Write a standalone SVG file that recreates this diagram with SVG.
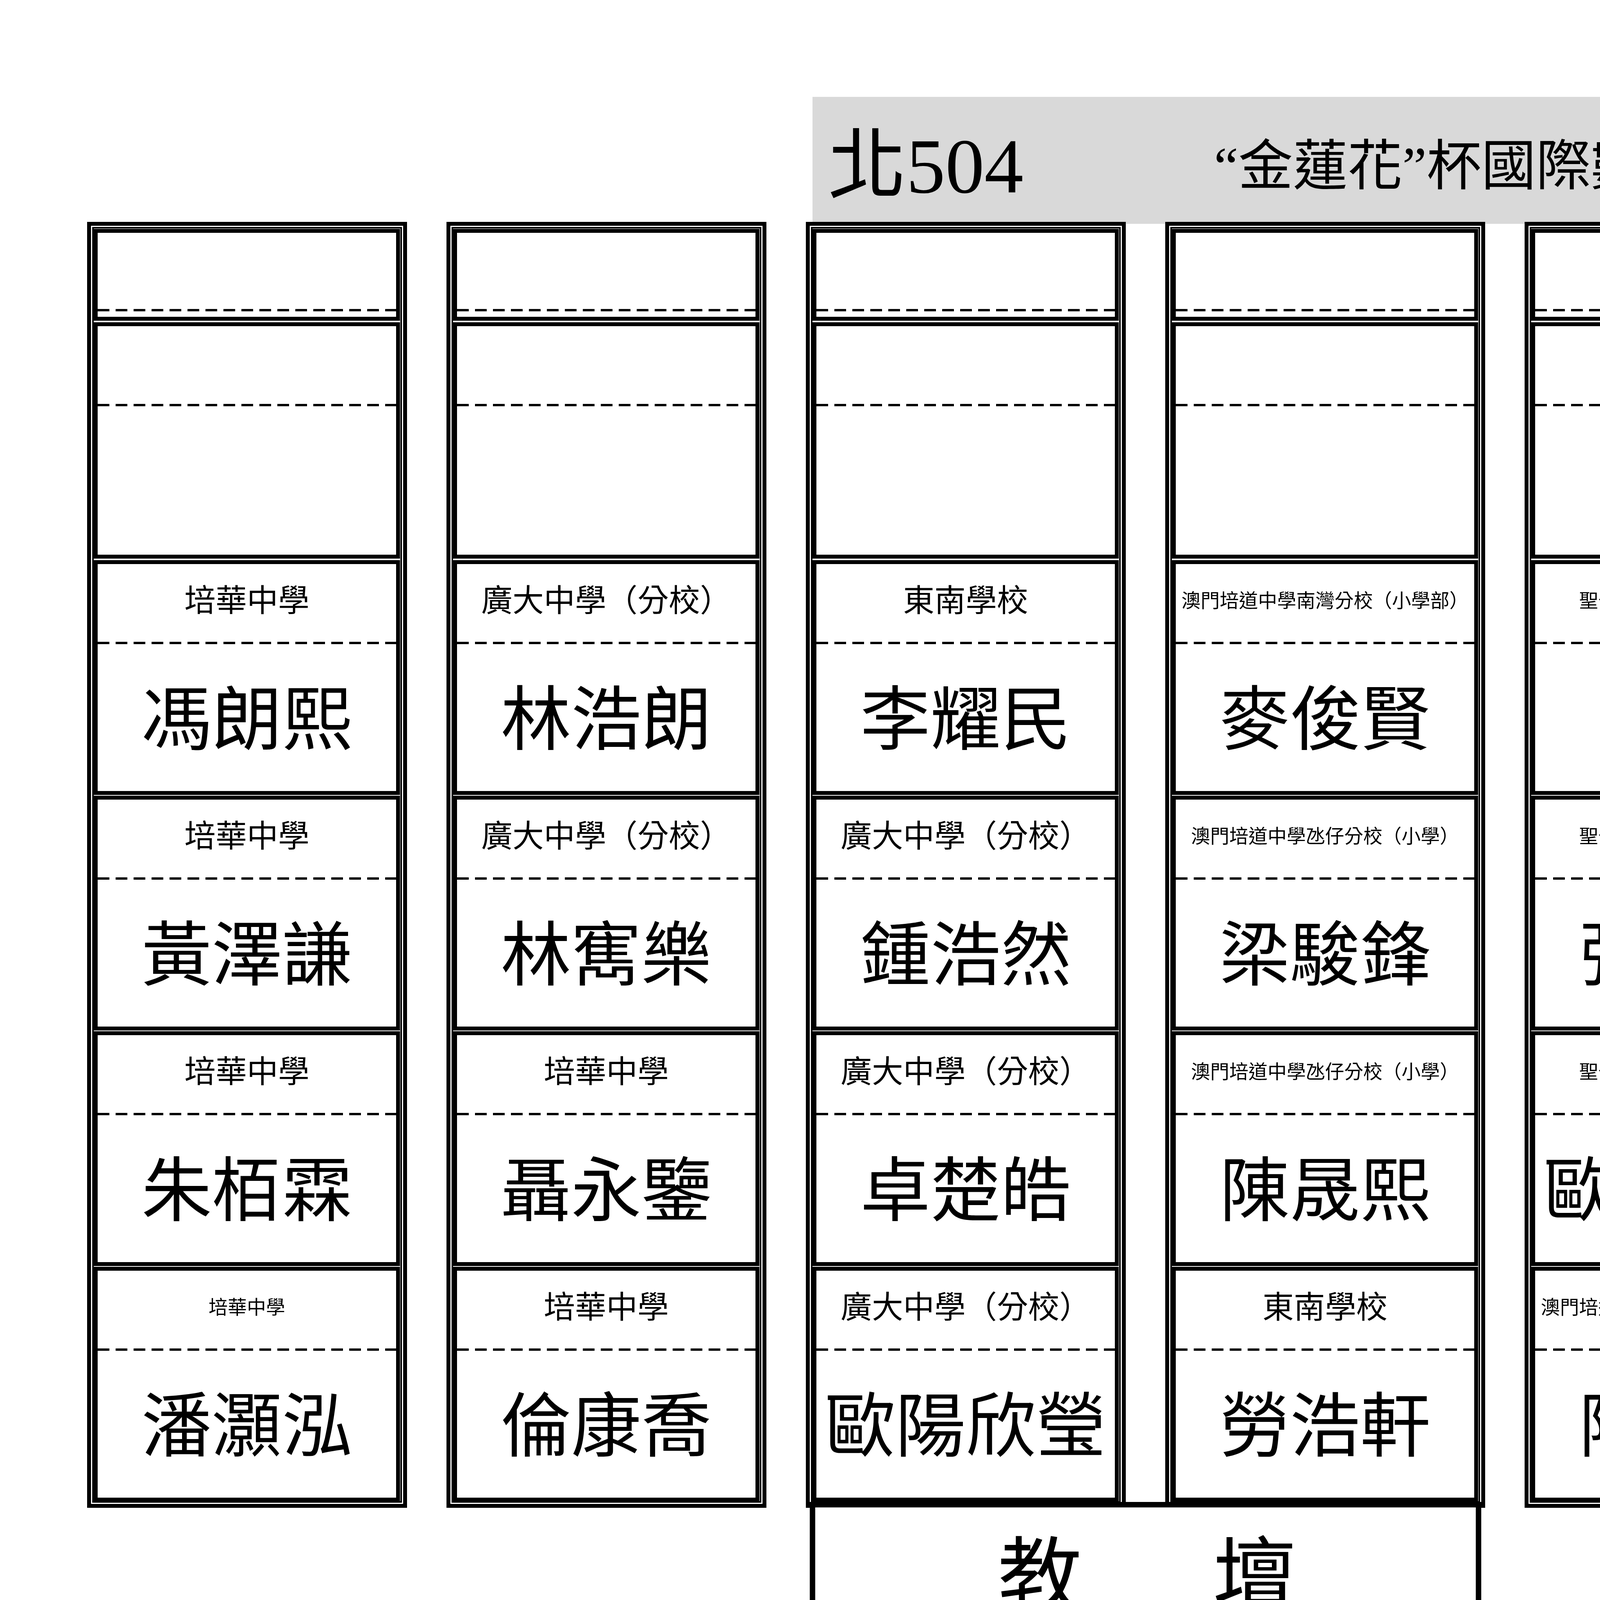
<svg xmlns="http://www.w3.org/2000/svg" width="7015" height="4960" viewBox="0 0 7015 4960">
<style>
.o{fill:none;stroke:#000;stroke-width:10}
.i{fill:none;stroke:#000;stroke-width:4}
.b{fill:#fff;stroke:#000;stroke-width:10}
.d{stroke:#000;stroke-width:6;stroke-dasharray:30 16}
text{font-family:"Liberation Serif","Noto Sans CJK TC",serif;fill:#000;text-anchor:middle;dominant-baseline:central}
.s{font-size:80px}.m{font-size:49px}.n{font-size:180px}
</style>
<defs>
<g id="col">
<rect class="o" x="0" y="573" width="809" height="3282"/>
<rect class="i" x="10" y="583" width="789" height="3262"/>
<rect class="b" x="17" y="591" width="774" height="225"/>
<line class="d" x1="22" y1="794" x2="786" y2="794"/>
<rect class="b" x="17" y="830" width="774" height="595"/>
<line class="d" x1="22" y1="1037" x2="786" y2="1037"/>
<rect class="b" x="17" y="1439" width="774" height="591"/>
<line class="d" x1="22" y1="1646" x2="786" y2="1646"/>
<rect class="b" x="17" y="2042" width="774" height="591"/>
<line class="d" x1="22" y1="2249" x2="786" y2="2249"/>
<rect class="b" x="17" y="2645" width="774" height="591"/>
<line class="d" x1="22" y1="2852" x2="786" y2="2852"/>
<rect class="b" x="17" y="3248" width="774" height="591"/>
<line class="d" x1="22" y1="3455" x2="786" y2="3455"/>
</g>
</defs>
<rect x="2080" y="248" width="3550" height="325" fill="#d9d9d9"/>
<g id="title">
<text x="2120" y="425" font-size="200" style="text-anchor:start">北504</text>
<text x="3870" y="425" font-size="140">“金蓮花”杯國際數學比賽</text>
<text x="5172" y="425" font-size="200">小四級</text>
</g>
<g id="c1" transform="translate(228,0)"><use href="#col"/>
<text class="s" x="404" y="1538">培華中學</text><text class="n" x="404" y="1844">馮朗熙</text>
<text class="s" x="404" y="2141">培華中學</text><text class="n" x="404" y="2447">黃澤謙</text>
<text class="s" x="404" y="2744">培華中學</text><text class="n" x="404" y="3050">朱栢霖</text>
<text class="m" x="404" y="3347" font-size="60">培華中學</text><text class="n" x="404" y="3653">潘灝泓</text>
</g>
<g id="c2" transform="translate(1148,0)"><use href="#col"/>
<text class="s" x="404" y="1538">廣大中學（分校）</text><text class="n" x="404" y="1844">林浩朗</text>
<text class="s" x="404" y="2141">廣大中學（分校）</text><text class="n" x="404" y="2447">林寯樂</text>
<text class="s" x="404" y="2744">培華中學</text><text class="n" x="404" y="3050">聶永鑒</text>
<text class="s" x="404" y="3347">培華中學</text><text class="n" x="404" y="3653">倫康喬</text>
</g>
<g id="c3" transform="translate(2068,0)"><use href="#col"/>
<text class="s" x="404" y="1538">東南學校</text><text class="n" x="404" y="1844">李耀民</text>
<text class="s" x="404" y="2141">廣大中學（分校）</text><text class="n" x="404" y="2447">鍾浩然</text>
<text class="s" x="404" y="2744">廣大中學（分校）</text><text class="n" x="404" y="3050">卓楚皓</text>
<text class="s" x="404" y="3347">廣大中學（分校）</text><text class="n" x="404" y="3653">歐陽欣瑩</text>
</g>
<g id="c4" transform="translate(2988,0)"><use href="#col"/>
<text class="m" x="404" y="1538">澳門培道中學南灣分校（小學部）</text><text class="n" x="404" y="1844">麥俊賢</text>
<text class="m" x="404" y="2141">澳門培道中學氹仔分校（小學）</text><text class="n" x="404" y="2447">梁駿鋒</text>
<text class="m" x="404" y="2744">澳門培道中學氹仔分校（小學）</text><text class="n" x="404" y="3050">陳晟熙</text>
<text class="s" x="404" y="3347">東南學校</text><text class="n" x="404" y="3653">勞浩軒</text>
</g>
<g id="c5" transform="translate(3908,0)"><use href="#col"/>
<text class="m" x="404" y="1538">聖公會（澳門）蔡高中學</text><text class="n" x="404" y="1844">蘇彧</text>
<text class="m" x="404" y="2141">聖公會（澳門）蔡高中學</text><text class="n" x="404" y="2447">張詠傜</text>
<text class="m" x="404" y="2744">聖公會（澳門）蔡高中學</text><text class="n" x="404" y="3050">歐陽愷珀</text>
<text class="m" x="404" y="3347">澳門培道中學南灣分校（小學部）</text><text class="n" x="404" y="3653">陳俊達</text>
</g>
<g id="c6" transform="translate(4828,0)"><use href="#col"/>
<text class="m" x="404" y="1538">聖若瑟教區中學第五校</text><text class="n" x="404" y="1844">李婥華</text>
<text class="m" x="404" y="2141">聖若瑟教區中學第五校</text><text class="n" x="404" y="2447">趙倩妤</text>
<text class="m" x="404" y="2744">聖若瑟教區中學第五校</text><text class="n" x="404" y="3050">梅曉桐</text>
<text class="m" x="404" y="3347">聖公會（澳門）蔡高中學</text><text class="n" x="404" y="3653">黃哲瀚</text>
</g>
<g id="c7" transform="translate(5748,0)"><use href="#col"/>
<text class="m" x="404" y="2141">聖若瑟教區中學第五校</text><text class="n" x="404" y="2447">李穎兒</text>
<text class="m" x="404" y="2744">聖若瑟教區中學第五校</text><text class="n" x="404" y="3050">吳宇駿</text>
<text class="m" x="404" y="3347">聖若瑟教區中學第五校</text><text class="n" x="404" y="3653">李俊希</text>
</g>
<g id="podium">
<rect x="2080" y="3852" width="1705" height="378" fill="#fff" stroke="#000" stroke-width="14"/>
<text x="2662" y="4040" font-size="215">教</text>
<text x="3212" y="4040" font-size="215">壇</text>
</g>
<g id="door">
<rect x="239" y="4230" width="797" height="288" fill="#fff" stroke="#000" stroke-width="16"/>
<text x="636" y="4374" font-size="200">門口</text>
</g>
<g id="connectors"/>
</svg>
